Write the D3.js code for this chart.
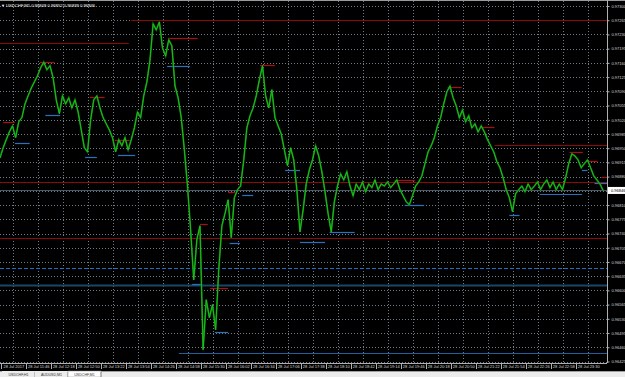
<!DOCTYPE html>
<html>
<head>
<meta charset="utf-8">
<script src="https://cdn.jsdelivr.net/npm/d3@7/dist/d3.min.js"></script>
<style>
  body { margin: 0; background: #000; overflow: hidden; }
  text { font-family: "Liberation Sans", Arial, sans-serif; }
</style>
</head>
<body>
<div id="chart"></div>
<script>
// chart data
const chartTitle = "USDCHF,M1  0.96848 0.96852 0.96839 0.96846";
const firstBar = "10:57";      // time of first close below
const barMinutes = 4;          // closes sampled every 4 minutes
const viewEnd = "23:54";
const closes = [
  0.96926, 0.96951, 0.96971, 0.96990, 0.97005, 0.96976, 0.97015, 0.97025, 0.97059, 0.97079,
  0.97098, 0.97113, 0.97128, 0.97148, 0.97162, 0.97143, 0.97153, 0.97123, 0.97069, 0.97035,
  0.97079, 0.97059, 0.97074, 0.97049, 0.97069, 0.97039, 0.96995, 0.96951, 0.96941, 0.97020,
  0.97069, 0.97079, 0.97049, 0.97025, 0.97010, 0.96995, 0.96976, 0.96941, 0.96971, 0.96956,
  0.96976, 0.96946, 0.96971, 0.97000, 0.97039, 0.97025, 0.97079, 0.97113, 0.97167, 0.97256,
  0.97241, 0.97261, 0.97197, 0.97177, 0.97217, 0.97202, 0.97103, 0.97074, 0.97025, 0.96946,
  0.96857, 0.96749, 0.96626, 0.96725, 0.96759, 0.96454, 0.96577, 0.96533, 0.96565, 0.96503,
  0.96651, 0.96759, 0.96789, 0.96823, 0.96730, 0.96828, 0.96848, 0.96857, 0.96921, 0.97000,
  0.97030, 0.97049, 0.97079, 0.97118, 0.97153, 0.97079, 0.97049, 0.97094, 0.97025, 0.97005,
  0.96985, 0.96946, 0.96907, 0.96951, 0.96921, 0.96848, 0.96744, 0.96798, 0.96862, 0.96897,
  0.96921, 0.96956, 0.96931, 0.96892, 0.96843, 0.96789, 0.96744, 0.96818, 0.96857, 0.96887,
  0.96872, 0.96892, 0.96857, 0.96833, 0.96862, 0.96848, 0.96867, 0.96843, 0.96862, 0.96853,
  0.96872, 0.96848, 0.96862, 0.96857, 0.96867, 0.96853, 0.96862, 0.96872, 0.96848, 0.96833,
  0.96818, 0.96811, 0.96833, 0.96857, 0.96867, 0.96882, 0.96912, 0.96941, 0.96956, 0.96976,
  0.97005, 0.97025, 0.97059, 0.97089, 0.97103, 0.97074, 0.97054, 0.97025, 0.97044, 0.97015,
  0.97030, 0.97000, 0.97010, 0.96990, 0.97005, 0.96990, 0.96971, 0.96956, 0.96941, 0.96917,
  0.96902, 0.96877, 0.96848, 0.96828, 0.96794, 0.96838, 0.96848, 0.96857, 0.96843, 0.96862,
  0.96848, 0.96857, 0.96867, 0.96848, 0.96862, 0.96872, 0.96853, 0.96867, 0.96848, 0.96862,
  0.96848, 0.96877, 0.96912, 0.96936, 0.96931, 0.96921, 0.96902, 0.96912, 0.96921, 0.96902,
  0.96882, 0.96872, 0.96862, 0.96846
];
const bidPrice = 0.96846;

const timeTicks = ["11:14", "11:46", "12:18", "12:50", "13:22", "13:54", "14:26", "14:58",
  "15:30", "16:02", "16:34", "17:06", "17:38", "18:10", "18:42", "19:14", "19:46", "20:18",
  "20:50", "21:22", "21:54", "22:26", "22:58", "23:30"];
const priceTicks = [0.96425, 0.96460, 0.96495, 0.96530, 0.96565, 0.96600, 0.96635, 0.96670,
  0.96705, 0.96740, 0.96775, 0.96810, 0.96845, 0.96880, 0.96915, 0.96950, 0.96985, 0.97020,
  0.97055, 0.97090, 0.97125, 0.97160, 0.97195, 0.97230, 0.97265, 0.97300];

// long levels: [price, from, to]  (null = chart edge)
const redLevels = [
  [0.97266, "13:45", null], [0.97209, null, "13:42"], [0.96958, "21:30", null],
  [0.96867, null, null], [0.96730, null, null]
];
const blueLevels = [[0.96446, "14:46", null]];
const blueDashed = [[0.96655, null, null]];
const blueThick = [[0.96613, null, null]];

// short swing marks: [price, from, to]
const redMarks = [
  [0.97015, "11:01", "11:16"], [0.97162, "11:48", "12:07"], [0.97076, "12:52", "13:11"],
  [0.96971, "13:24", "13:43"], [0.97222, "14:33", "15:10"], [0.96764, "15:13", "15:23"],
  [0.96606, "15:26", "15:49"], [0.96843, "15:49", "15:58"], [0.97155, "16:30", "16:49"],
  [0.96872, "19:22", "19:48"], [0.97101, "20:30", "20:48"], [0.97003, "21:14", "21:30"],
  [0.96941, "23:06", "23:23"], [0.96919, "23:28", "23:42"], [0.96880, "23:47", "23:54"]
];
const blueMarks = [
  [0.96963, "11:16", "11:35"], [0.97032, "11:55", "12:14"], [0.96929, "12:46", "13:01"],
  [0.96934, "13:28", "13:50"], [0.97153, "14:31", "15:00"], [0.96616, "15:03", "15:15"],
  [0.96498, "15:32", "15:49"], [0.96717, "15:51", "16:04"], [0.96835, "16:07", "16:21"],
  [0.96897, "17:02", "17:21"], [0.96720, "17:21", "17:53"], [0.96744, "17:59", "18:31"],
  [0.96811, "19:35", "20:00"], [0.96786, "21:49", "22:02"], [0.96838, "22:28", "23:22"],
  [0.96897, "23:22", "23:29"], [0.96865, "23:38", "23:54"]
];

const tabs = ["USDCHF,H1", "AUDUSD,M1", "USDCHF,M1"];
const activeTab = 2;

function mins(s) { var p = s.split(":"); return +p[0] * 60 + +p[1]; }

var W = 625, H = 377, plotR = 607, plotB = 363;

var svg = d3.select("#chart").append("svg")
    .attr("width", W)
    .attr("height", H)
    .style("display", "block");

svg.append("rect").attr("width", W).attr("height", H).attr("fill", "#000");

var x = d3.scaleLinear()
    .domain([mins(firstBar), mins(viewEnd)])
    .range([0, plotR]);
var y = d3.scaleLinear()
    .domain([priceTicks[0], priceTicks[priceTicks.length - 1]])
    .range([361.5, 6]);

// grid
var grid = svg.append("g");
grid.selectAll(".vg").data(timeTicks).enter().append("line")
    .attr("x1", d => Math.round(x(mins(d))) + 0.5)
    .attr("x2", d => Math.round(x(mins(d))) + 0.5)
    .attr("y1", 1).attr("y2", plotB)
    .attr("stroke", "#6e7a86").attr("stroke-dasharray", "1,2");
grid.selectAll(".hg").data(priceTicks).enter().append("line")
    .attr("x1", 0).attr("x2", plotR)
    .attr("y1", d => Math.round(y(d)) + 0.5)
    .attr("y2", d => Math.round(y(d)) + 0.5)
    .attr("stroke", "#6e7a86").attr("stroke-dasharray", "1,2");

function xFrom(t) { return t == null ? 0 : x(mins(t)); }
function xTo(t) { return t == null ? plotR : x(mins(t)); }

function drawLevels(data, color, width, dash) {
  svg.append("g").selectAll("line").data(data).enter().append("line")
      .attr("x1", d => xFrom(d[1]))
      .attr("x2", d => xTo(d[2]))
      .attr("y1", d => Math.round(y(d[0])) + 0.5)
      .attr("y2", d => Math.round(y(d[0])) + 0.5)
      .attr("stroke", color)
      .attr("stroke-width", width)
      .attr("stroke-dasharray", dash);
}

// bid line
drawLevels([[bidPrice, null, null]], "#4a5866", 1, null);

drawLevels(redLevels, "#8c0a0a", 1, null);
drawLevels(blueLevels, "#1f5f9e", 1, null);
drawLevels(blueDashed, "#1f6fc8", 1, "4,2");
drawLevels(blueThick, "#1a4766", 2, null);
drawLevels(redMarks, "#a80f0f", 1.2, null);
drawLevels(blueMarks, "#2a72c0", 1.2, null);

// price line
var line = d3.line()
    .x((d, i) => x(mins(firstBar) + i * barMinutes))
    .y(d => y(d));

svg.append("path")
    .datum(closes)
    .attr("fill", "none")
    .attr("stroke", "#0a7a0a")
    .attr("stroke-width", 1.7)
    .attr("d", line);
svg.append("path")
    .datum(closes)
    .attr("fill", "none")
    .attr("stroke", "#1ec41e")
    .attr("stroke-width", 0.9)
    .attr("d", line);

// frame
svg.append("line").attr("x1", 0).attr("x2", W).attr("y1", 0.5).attr("y2", 0.5)
    .attr("stroke", "#9a9a9a");
svg.append("line").attr("x1", plotR + 0.5).attr("x2", plotR + 0.5).attr("y1", 0).attr("y2", plotB)
    .attr("stroke", "#b0b0b0");
svg.append("line").attr("x1", 0).attr("x2", plotR).attr("y1", plotB + 0.5).attr("y2", plotB + 0.5)
    .attr("stroke", "#b0b0b0");

// right price axis
var yAxis = d3.axisRight(y)
    .tickValues(priceTicks)
    .tickFormat(d3.format(".5f"))
    .tickSize(2)
    .tickPadding(2);
var ya = svg.append("g")
    .attr("transform", "translate(" + (plotR + 0.5) + ",0)")
    .call(yAxis);
ya.select(".domain").remove();
ya.selectAll("line").attr("stroke", "#b0b0b0");
ya.selectAll("text").attr("fill", "#d8d8d8").style("font-size", "4px");

// bid label
var bidG = svg.append("g").attr("transform", "translate(" + (plotR + 1) + "," + y(bidPrice) + ")");
bidG.append("rect").attr("x", 0).attr("y", -3.5).attr("width", 17).attr("height", 7)
    .attr("fill", "#fff");
bidG.append("text").attr("x", 3).attr("dy", "0.35em").attr("fill", "#000")
    .style("font-size", "4px").text(d3.format(".5f")(bidPrice));

// bottom time axis
var xAxis = d3.axisBottom(x)
    .tickValues(timeTicks.map(mins))
    .tickFormat((d, i) => i == 0 ? "28 Jul 2017" : "28 Jul " + timeTicks[i])
    .tickSize(0)
    .tickPadding(2);
var xa = svg.append("g")
    .attr("transform", "translate(0," + plotB + ")")
    .call(xAxis);
xa.select(".domain").remove();
xa.selectAll("text").attr("fill", "#d8d8d8").style("font-size", "4px");
// little separators between time labels
svg.append("g").selectAll("line").data(timeTicks).enter().append("line")
    .attr("x1", d => Math.round(x(mins(d)) - 12.5) + 0.5)
    .attr("x2", d => Math.round(x(mins(d)) - 12.5) + 0.5)
    .attr("y1", plotB).attr("y2", plotB + 6)
    .attr("stroke", "#b0b0b0");

// title
svg.append("text").attr("x", 1).attr("y", 7).attr("fill", "#fff")
    .style("font-size", "4px").text("\u25BC");
svg.append("text").attr("x", 6).attr("y", 7).attr("fill", "#fff")
    .style("font-size", "4.2px").text(chartTitle);

// tab bar
var tabY = 371;
svg.append("rect").attr("x", 0).attr("y", tabY).attr("width", W).attr("height", H - tabY)
    .attr("fill", "#ececec");
svg.append("line").attr("x1", 0).attr("x2", W).attr("y1", tabY + 0.5).attr("y2", tabY + 0.5)
    .attr("stroke", "#a0a0a0");
var tabW = 33;
var tg = svg.append("g").selectAll("g").data(tabs).enter().append("g")
    .attr("transform", (d, i) => "translate(" + (2 + i * tabW) + "," + tabY + ")");
tg.append("rect")
    .attr("width", tabW).attr("height", H - tabY)
    .attr("fill", (d, i) => i == activeTab ? "#fff" : "#ececec")
    .attr("stroke", (d, i) => i == activeTab ? "#909090" : "none")
    .attr("stroke-width", 0.5);
tg.append("line").attr("x1", tabW).attr("x2", tabW).attr("y1", 1).attr("y2", 6)
    .attr("stroke", "#909090");
tg.append("text").attr("x", tabW / 2).attr("y", 4.5).attr("text-anchor", "middle")
    .attr("fill", "#333").style("font-size", "3.6px").text(d => d);
</script>
</body>
</html>
